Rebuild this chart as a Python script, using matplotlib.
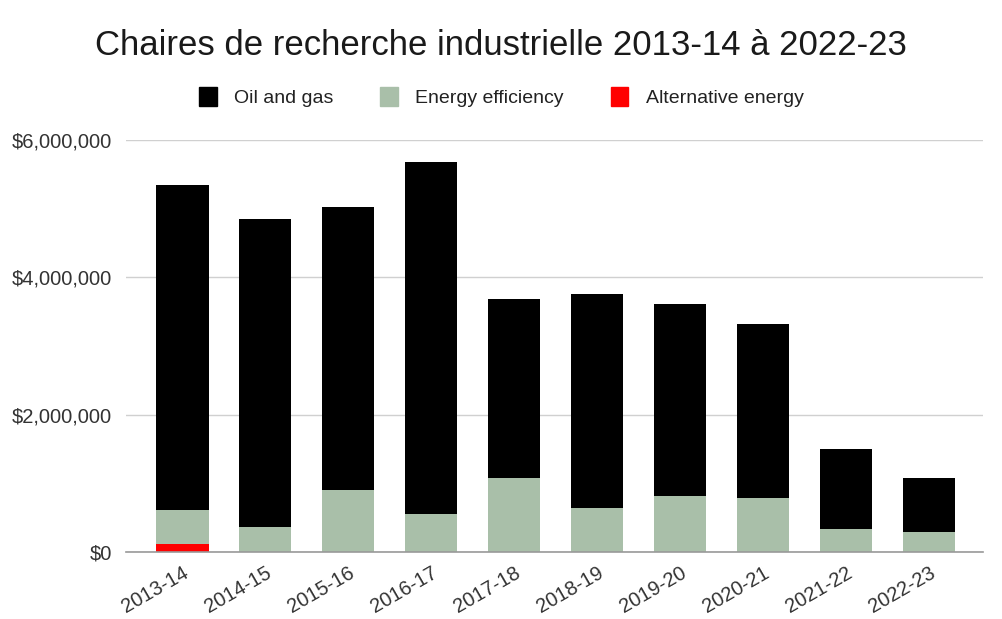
import numpy as np
import matplotlib
matplotlib.use('Agg')
import matplotlib.pyplot as plt
from matplotlib.ticker import FuncFormatter
from matplotlib.patches import Patch

years = ["2013-14", "2014-15", "2015-16", "2016-17", "2017-18",
         "2018-19", "2019-20", "2020-21", "2021-22", "2022-23"]
alternative = [120000, 0, 0, 0, 0, 0, 0, 0, 0, 0]
efficiency = [495000, 370000, 910000, 550000, 1080000,
              650000, 820000, 790000, 340000, 290000]
oil_gas = [4735000, 4480000, 4110000, 5130000, 2600000,
           3110000, 2790000, 2530000, 1170000, 790000]

plt.rcParams['font.family'] = ['Liberation Sans', 'DejaVu Sans']

fig = plt.figure(figsize=(10.03, 6.19), dpi=100)
ax = fig.add_axes([0.1256, 0.1078, 0.8544, 0.666])

x = np.arange(len(years))
w = 0.63
alt = np.array(alternative)
eff = np.array(efficiency)
oil = np.array(oil_gas)
ax.bar(x, alt, w, color='#ff0000', zorder=3)
ax.bar(x, eff, w, bottom=alt, color='#a9bfa9', zorder=3)
ax.bar(x, oil, w, bottom=alt + eff, color='#000000', zorder=3)

ax.set_xlim(-0.68, 9.65)
ax.set_ylim(0, 6000000)
ax.set_yticks([0, 2000000, 4000000, 6000000])
ax.yaxis.set_major_formatter(FuncFormatter(lambda v, p: f"${v:,.0f}"))
ax.set_xticks(x)
ax.set_xticklabels(years, rotation=30, ha='right', rotation_mode='anchor')
ax.tick_params(axis='both', length=0, labelsize=14.5, colors='#333333')
ax.tick_params(axis='y', pad=10)
ax.tick_params(axis='x', pad=8)

ax.grid(axis='y', color='#d0d0d0', linewidth=1, zorder=0)
for s in ['top', 'right', 'left']:
    ax.spines[s].set_visible(False)
ax.spines['bottom'].set_color('#999999')
ax.spines['bottom'].set_linewidth(1.2)
ax.spines['bottom'].set_zorder(4)

fig.text(0.499, 0.927, "Chaires de recherche industrielle 2013-14 à 2022-23",
         ha='center', va='center', fontsize=25, color='#1a1a1a')

handles = [Patch(color='#000000', label='Oil and gas'),
           Patch(color='#a9bfa9', label='Energy efficiency'),
           Patch(color='#ff0000', label='Alternative energy')]
fig.legend(handles=handles, loc='center', bbox_to_anchor=(0.5, 0.843), ncol=3,
           frameon=False, fontsize=14, handlelength=0.9, handleheight=1.1,
           handletextpad=0.9, columnspacing=2.4, labelcolor='#222222')

fig.savefig('out.png', dpi=100)
